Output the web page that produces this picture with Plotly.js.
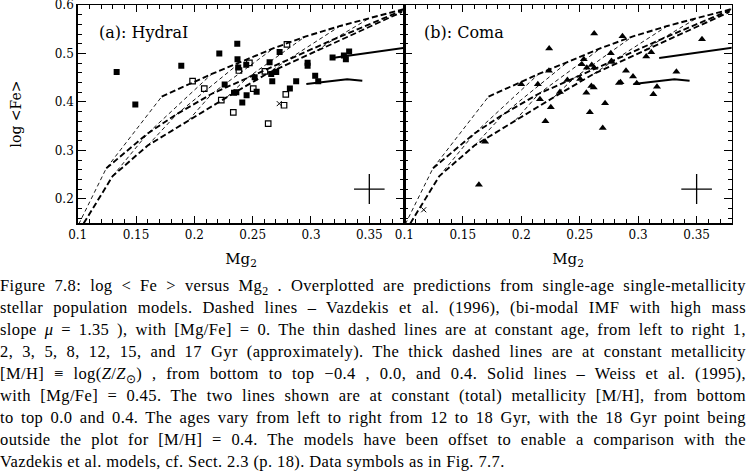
<!DOCTYPE html>
<html>
<head>
<meta charset="utf-8">
<script src="https://cdn.plot.ly/plotly-3.0.1.min.js"></script>
<style>
  html, body { margin:0; padding:0; background:#fff; }
  #wrap { position:relative; width:746px; height:474px; overflow:hidden; }
  #plot { position:absolute; left:0; top:0; width:746px; height:474px; }
  #cap { position:absolute; left:0; top:275px; width:746px; font-family:"Liberation Serif", serif; font-size:16.5px; letter-spacing:0.4px; line-height:22px; color:#000; }
  #cap .j { text-align:justify; text-align-last:justify; height:22px; white-space:nowrap; }
  #cap .l { text-align:left; height:22px; white-space:nowrap; }
  #cap sub { font-size:0.72em; vertical-align:-0.3em; line-height:0; }
</style>
</head>
<body>
<div id="wrap">
  <div id="plot"></div>
  <div id="cap">
    <div class="j">Figure 7.8: log &lt; Fe &gt; versus Mg<sub>2</sub> . Overplotted are predictions from single-age single-metallicity</div>
    <div class="j">stellar population models. Dashed lines – Vazdekis et al. (1996), (bi-modal IMF with high mass</div>
    <div class="j">slope <i>μ</i> = 1.35 ), with [Mg/Fe] = 0. The thin dashed lines are at constant age, from left to right 1,</div>
    <div class="j">2, 3, 5, 8, 12, 15, and 17 Gyr (approximately). The thick dashed lines are at constant metallicity</div>
    <div class="j">[M/H] ≡ log(<i>Z</i>/<i>Z</i><sub>⊙</sub>) , from bottom to top −0.4 , 0.0, and 0.4. Solid lines – Weiss et al. (1995),</div>
    <div class="j">with [Mg/Fe] = 0.45. The two lines shown are at constant (total) metallicity [M/H], from bottom</div>
    <div class="j">to top 0.0 and 0.4. The ages vary from left to right from 12 to 18 Gyr, with the 18 Gyr point being</div>
    <div class="j">outside the plot for [M/H] = 0.4. The models have been offset to enable a comparison with the</div>
    <div class="l">Vazdekis et al. models, cf. Sect. 2.3 (p. 18). Data symbols as in Fig. 7.7.</div>
  </div>
</div>
<script>
// ---- Vazdekis et al. (1996) model grid: ages 1,2,3,5,8,12,15,17 Gyr ----
const ageGyr = [1, 2, 3, 5, 8, 12, 15, 17];
const vzLowX  = [0.085, 0.130, 0.160, 0.195, 0.228, 0.262, 0.305, 0.378];   // [M/H] = -0.4
const vzLowY  = [0.070, 0.247, 0.310, 0.362, 0.410, 0.458, 0.506, 0.586];
const vzMidX  = [0.1245, 0.160, 0.185, 0.215, 0.245, 0.280, 0.320, 0.378]; // [M/H] = 0.0
const vzMidY  = [0.263, 0.335, 0.375, 0.417, 0.449, 0.487, 0.530, 0.589];
const vzHighX = [0.172, 0.215, 0.240, 0.268, 0.295, 0.325, 0.350, 0.380];   // [M/H] = +0.4
const vzHighY = [0.411, 0.458, 0.483, 0.511, 0.535, 0.557, 0.573, 0.592];

// ---- Weiss et al. (1995) models ----
const weissLowX  = [0.296, 0.318, 0.331, 0.344];   // [M/H] = 0.0
const weissLowY  = [0.437, 0.443, 0.447, 0.444];
const weissHighX = [0.318, 0.345, 0.392];          // [M/H] = 0.4
const weissHighY = [0.491, 0.500, 0.516];

// ---- Hydra I data ----
const hydraFilledX = [0.1334, 0.1494, 0.1888, 0.2214, 0.2368, 0.2370, 0.2376, 0.2340, 0.2360, 0.2445,
                      0.2448, 0.2411, 0.2517, 0.2534, 0.2645, 0.2659, 0.2668, 0.2702, 0.2731, 0.2819,
                      0.2873, 0.2971, 0.2971, 0.3036, 0.3062, 0.3185, 0.3282, 0.3299, 0.3327, 0.2260];
const hydraFilledY = [0.462, 0.395, 0.475, 0.500, 0.520, 0.488, 0.471, 0.419, 0.420, 0.477,
                      0.414, 0.399, 0.451, 0.421, 0.482, 0.458, 0.443, 0.462, 0.503, 0.428,
                      0.443, 0.481, 0.475, 0.454, 0.443, 0.492, 0.496, 0.488, 0.504, 0.436];
const hydraOpenX = [0.1985, 0.2085, 0.2231, 0.2334, 0.2382, 0.2472, 0.2505, 0.2605, 0.2633, 0.2784, 0.2769, 0.2794];
const hydraOpenY = [0.443, 0.4275, 0.404, 0.3787, 0.465, 0.4807, 0.4275, 0.4632, 0.3553, 0.4158, 0.3932, 0.519];
const hydraCrossX = [0.2728];
const hydraCrossY = [0.3966];

// ---- Coma data ----
const comaX = [0.1638, 0.1691, 0.2000, 0.2142, 0.2160, 0.2207, 0.2239, 0.2237, 0.2253, 0.2331,
               0.2395, 0.2504, 0.2518, 0.2535, 0.2561, 0.2557, 0.2587, 0.2603, 0.2624, 0.2600,
               0.2620, 0.2624, 0.2697, 0.2717, 0.2766, 0.2769, 0.2772, 0.2836, 0.2849, 0.2866,
               0.2896, 0.2956, 0.2988, 0.3069, 0.3112, 0.3130, 0.3161, 0.3327, 0.3546];
const comaY = [0.229, 0.318, 0.4365, 0.4365, 0.4056, 0.360, 0.5107, 0.4646, 0.389, 0.4206,
               0.4454, 0.4474, 0.4777, 0.4880, 0.4707, 0.4192, 0.3787, 0.4763, 0.4707, 0.4330,
               0.4299, 0.5412, 0.3464, 0.3973, 0.5007, 0.4825, 0.4845, 0.4390, 0.4406, 0.5357,
               0.4646, 0.4526, 0.4389, 0.4938, 0.5025, 0.4158, 0.4312, 0.4625, 0.5293];
const comaCrossX = [0.1166];
const comaCrossY = [0.1773];

// ---- typical error bar ----
const errX = [0.35], errY = [0.22];
const errDx = [0.0131], errDy = [0.031];

const panels = ['(a): HydraI', '(b): Coma'];

function modelTraces(xa, ya) {
  const t = [];
  const thick = {color:'#000', width:1.9, dash:'6px,3px'};
  const thin  = {color:'#000', width:0.9, dash:'4px,3px'};
  [[vzLowX, vzLowY], [vzMidX, vzMidY], [vzHighX, vzHighY]].forEach(p => {
    t.push({x:p[0], y:p[1], xaxis:xa, yaxis:ya, mode:'lines', line:thick, hoverinfo:'skip', showlegend:false});
  });
  for (let i = 0; i < ageGyr.length; i++) {
    t.push({x:[vzLowX[i], vzMidX[i], vzHighX[i]], y:[vzLowY[i], vzMidY[i], vzHighY[i]],
            xaxis:xa, yaxis:ya, mode:'lines', line:thin, hoverinfo:'skip', showlegend:false});
  }
  t.push({x:weissLowX, y:weissLowY, xaxis:xa, yaxis:ya, mode:'lines', line:{color:'#000', width:2}, showlegend:false});
  t.push({x:weissHighX, y:weissHighY, xaxis:xa, yaxis:ya, mode:'lines', line:{color:'#000', width:2}, showlegend:false});
  t.push({x:errX, y:errY, xaxis:xa, yaxis:ya, mode:'markers', marker:{size:1, color:'rgba(0,0,0,0)'},
          error_x:{type:'data', array:errDx, visible:true, color:'#000', thickness:1.3, width:0},
          error_y:{type:'data', array:errDy, visible:true, color:'#000', thickness:1.3, width:0}, showlegend:false});
  return t;
}

const traces = [];
traces.push(...modelTraces('x', 'y'));
traces.push({x:hydraFilledX, y:hydraFilledY, mode:'markers', xaxis:'x', yaxis:'y',
             marker:{symbol:'square', size:6, color:'#000'}, showlegend:false});
traces.push({x:hydraOpenX, y:hydraOpenY, mode:'markers', xaxis:'x', yaxis:'y',
             marker:{symbol:'square-open', size:5.5, color:'#000', line:{width:1.2}}, showlegend:false});
traces.push({x:hydraCrossX, y:hydraCrossY, mode:'markers', xaxis:'x', yaxis:'y',
             marker:{symbol:'x-thin-open', size:5, color:'#000', line:{width:1}}, showlegend:false});
traces.push(...modelTraces('x2', 'y2'));
traces.push({x:comaX, y:comaY, mode:'markers', xaxis:'x2', yaxis:'y2',
             marker:{symbol:'triangle-up', size:7, color:'#000'}, showlegend:false});
traces.push({x:comaCrossX, y:comaCrossY, mode:'markers', xaxis:'x2', yaxis:'y2',
             marker:{symbol:'x-thin-open', size:5, color:'#000', line:{width:1}}, showlegend:false});

const tickFont = {family:'DejaVu Serif', size:12, color:'#000'};
const titleFont = {family:'DejaVu Serif', size:15, color:'#000'};
function xAxis(domain, anchor) {
  return {domain:domain, anchor:anchor, range:[0.1, 0.38], tick0:0.1, dtick:0.05,
          ticks:'inside', ticklen:7, tickwidth:1, tickcolor:'#000',
          minor:{dtick:0.01, tick0:0.1, ticks:'inside', ticklen:4, tickwidth:1, tickcolor:'#000'},
          mirror:'ticks', showline:true, linewidth:1.5, linecolor:'#000',
          showgrid:false, zeroline:false, tickfont:tickFont, ticklabeloverflow:'allow',
          title:{text:'Mg<sub>2</sub>', font:titleFont, standoff:12}};
}
function yAxis(anchor, labels) {
  const ax = {domain:[0, 1], anchor:anchor, range:[0.15, 0.6003], tick0:0.2, dtick:0.1,
          ticks:'inside', ticklen:8, tickwidth:1, tickcolor:'#000',
          minor:{dtick:0.02, tick0:0.2, ticks:'inside', ticklen:4, tickwidth:1, tickcolor:'#000'},
          mirror:'ticks', showline:true, linewidth:1.5, linecolor:'#000',
          showgrid:false, zeroline:false, tickfont:tickFont, showticklabels:labels,
          ticklabeloverflow:'allow'};
  if (labels) ax.title = {text:'log &lt;Fe&gt;', font:{family:'DejaVu Serif', size:14, color:'#000'}, standoff:30};
  return ax;
}

const layout = {
  width:746, height:474,
  margin:{l:0, r:0, t:5, b:250.75, pad:0},
  paper_bgcolor:'rgba(0,0,0,0)', plot_bgcolor:'#fff',
  showlegend:false,
  xaxis: xAxis([0.10416, 0.54196], 'y'),
  yaxis: yAxis('x', true),
  xaxis2: xAxis([0.54196, 0.98083], 'y2'),
  yaxis2: yAxis('x2', false),
  annotations:[
    {text:panels[0], xref:'x domain', yref:'y domain', x:0.058, y:0.872, xanchor:'left', yanchor:'middle',
     showarrow:false, font:{family:'DejaVu Serif', size:16, color:'#000'}},
    {text:panels[1], xref:'x2 domain', yref:'y2 domain', x:0.054, y:0.872, xanchor:'left', yanchor:'middle',
     showarrow:false, font:{family:'DejaVu Serif', size:16, color:'#000'}}
  ]
};

Plotly.newPlot('plot', traces, layout, {staticPlot:true, displayModeBar:false});
</script>
</body>
</html>
